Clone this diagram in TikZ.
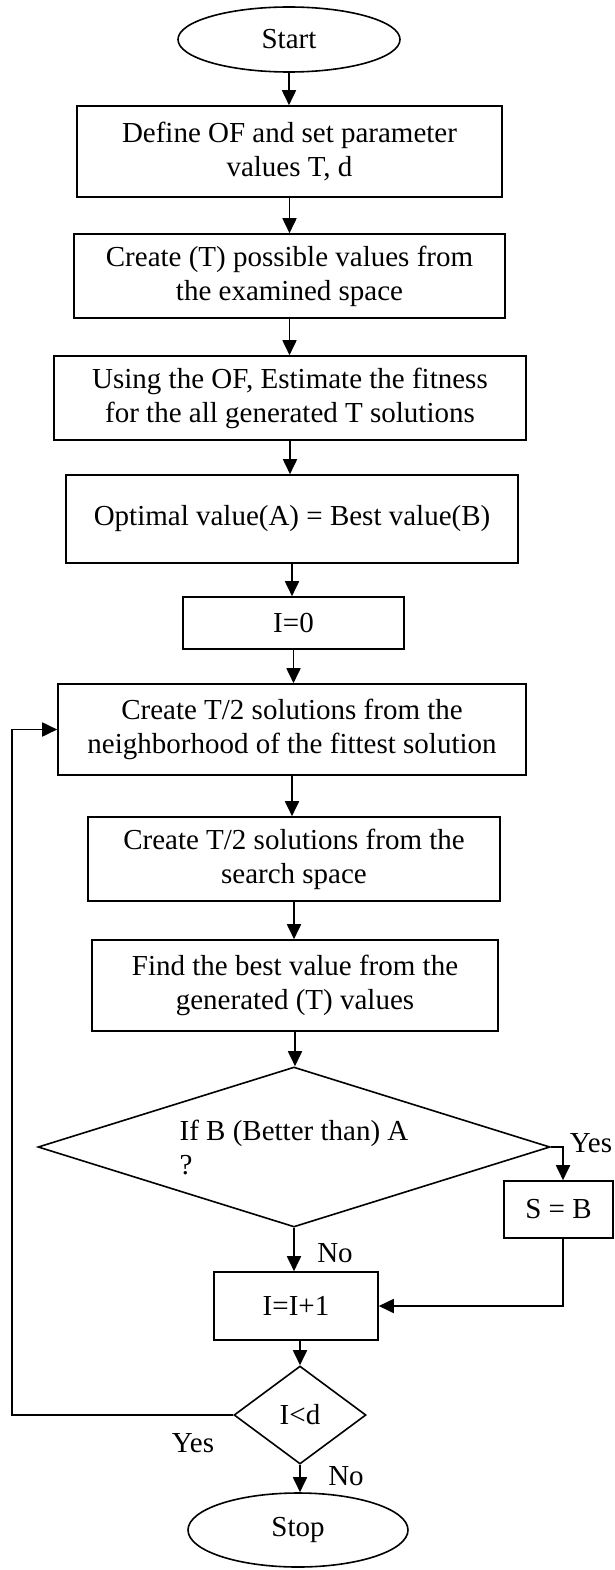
\documentclass[tikz,border=0pt]{standalone}
\usepackage{fontspec}
\setmainfont{Liberation Serif}
\usetikzlibrary{shapes.geometric,arrows.meta}
\tikzset{
  base/.style={draw=black, line width=1.6pt, inner sep=0pt, align=center, font=\fontsize{29}{34}\selectfont},
  stepbox/.style={base, rectangle},
  term/.style={base, ellipse},
  decision/.style={base, diamond},
  lbl/.style={inner sep=0pt, font=\fontsize{29}{34}\selectfont},
  arr/.style={line width=1.8pt, -{Triangle[length=15pt,width=14pt]}}
}
\begin{document}
\begin{tikzpicture}[x=1pt,y=-1pt]
\useasboundingbox (0,0) rectangle (614,1570);
\node[term, minimum width=222pt, minimum height=65pt] (start) at (289,39.5) {Start};
\node[stepbox, minimum width=425pt, minimum height=91pt] (b1) at (289.5,151.5) {Define OF and set parameter\\values T, d};
\node[stepbox, minimum width=431pt, minimum height=84pt] (b2) at (289.5,276) {Create (T) possible values from\\the examined space};
\node[stepbox, minimum width=472pt, minimum height=84pt] (b3) at (290,398) {Using the OF, Estimate the fitness\\for the all generated T solutions};
\node[stepbox, minimum width=452pt, minimum height=88pt] (b4) at (292,519) {Optimal value(A) = Best value(B)};
\node[stepbox, minimum width=221pt, minimum height=52pt] (b5) at (293.5,623) {I=0};
\node[stepbox, minimum width=468pt, minimum height=91pt] (b6) at (292,729.5) {Create T/2 solutions from the\\neighborhood of the fittest solution};
\node[stepbox, minimum width=412pt, minimum height=84pt] (b7) at (294,859) {Create T/2 solutions from the\\search space};
\node[stepbox, minimum width=406pt, minimum height=91pt] (b8) at (295,985.5) {Find the best value from the\\generated (T) values};
\node[decision, aspect=3.2, minimum width=512pt, minimum height=160pt, align=left] (dec) at (294,1147) {If B (Better than) A\\?};
\node[stepbox, minimum width=109pt, minimum height=57pt] (sb) at (558.5,1209.5) {S = B};
\node[stepbox, minimum width=164pt, minimum height=68pt] (inc) at (296,1306) {I=I+1};
\node[decision, aspect=1.35, minimum width=132pt, minimum height=98pt] (lt) at (300,1415) {I<d};
\node[term, minimum width=220pt, minimum height=74pt] (stop) at (298,1530) {Stop};
\coordinate (lp) at (12,0);
% labels
\node[lbl] (yes1) at (591,1143) {Yes};
\node[lbl] (no1) at (335,1253) {No};
\node[lbl] (yes2) at (193,1443) {Yes};
\node[lbl] (no2) at (346,1476) {No};
% connectors
\draw[arr] (start.south) -- (start.south |- b1.north);
\draw[arr] (b1.south) -- (b1.south |- b2.north);
\draw[arr] (b2.south) -- (b2.south |- b3.north);
\draw[arr] (b3.south) -- (b3.south |- b4.north);
\draw[arr] (b4.south) -- (b4.south |- b5.north);
\draw[arr] (b5.south) -- (b5.south |- b6.north);
\draw[arr] (b6.south) -- (b6.south |- b7.north);
\draw[arr] (b7.south) -- (b7.south |- b8.north);
\draw[arr] (b8.south) -- (b8.south |- dec.north);
\draw[arr] (dec.east) -| ([xshift=4.5pt]sb.north);
\draw[arr] ([xshift=4.5pt]sb.south) |- (inc.east);
\draw[arr] (dec.south) -- (dec.south |- inc.north);
\draw[arr] (lt.north |- inc.south) -- (lt.north);
\draw[arr] (lt.south) -- (lt.south |- stop.north);
\draw[arr] (lt.west) -- (lt.west -| lp) |- (b6.west);
\end{tikzpicture}
\end{document}
